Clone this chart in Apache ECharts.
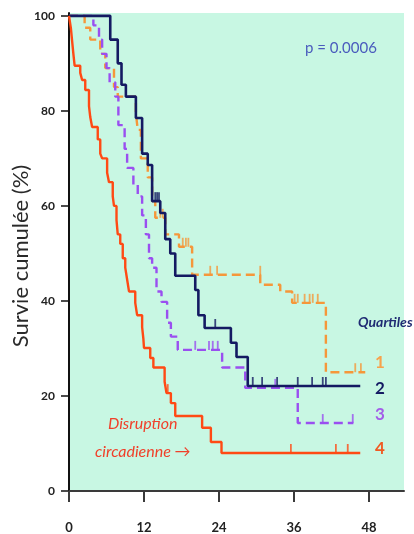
<!DOCTYPE html>
<html><head><meta charset="utf-8">
<script src="https://cdn.jsdelivr.net/npm/echarts@6/dist/echarts.min.js"></script>
<style>html,body{margin:0;padding:0;background:#fff}#c{width:414px;height:534px}</style>
</head><body><div id="c"></div>
<script>
// Axis ticks
const xTicks = [0, 12, 24, 36, 48];
const yTicks = [0, 20, 40, 60, 80, 100];

// Kaplan-Meier steps: [month, survival %] (survival after the event at that month)
const q1Steps = [[0,100],[2.5,97.5],[3.4,95],[5.0,92],[5.8,89],[7.2,85],[7.8,83],[10.7,79.5],[11.0,76],[11.5,70],[12.6,66],[13.3,61],[13.8,57.5],[15.4,54],[17.6,51.4],[19.7,45.5],[30.6,43.4],[33.8,42],[35.7,39.6],[41.1,25],[47.4,25]];
const q1Censor = [[14.6,57.5],[15.0,57.5],[18.2,51.4],[18.7,51.4],[19.1,51.4],[22.6,45.5],[23.7,45.5],[30.6,45.5],[36.1,39.6],[36.6,39.6],[37.7,39.6],[38.5,39.6],[39.0,39.6],[39.8,39.6],[45.8,25],[46.7,25]];

const q2Steps = [[0,100],[6.6,95],[7.8,90],[8.4,85.5],[9.1,83],[10.7,78.5],[11.7,71],[12.6,68.6],[13.3,61],[14.6,58.5],[15.4,53],[16.2,50],[17.0,45.3],[20.2,42.3],[20.7,37],[21.7,34.3],[25.9,31.2],[26.8,28.2],[28.6,22.1],[46.6,22.1]];
const q2Censor = [[13.8,61],[14.1,61],[14.4,61],[23.4,34.3],[29.4,22.1],[30.9,22.1],[33.3,22.1],[36.6,22.1],[38.9,22.1],[40.6,22.1],[41.1,22.1]];

const q3Steps = [[0,100],[3.9,98],[4.8,95],[5.3,92],[6.0,89],[6.5,86],[7.4,83],[7.9,77],[8.9,72],[9.3,68],[10.3,64.4],[11.0,62],[11.7,58],[12.3,54],[12.8,49],[13.3,47],[14.0,42],[14.8,39.8],[15.7,35.4],[16.3,32.5],[17.4,29.7],[24.5,26],[28.2,21.7],[36.6,14.3],[45.5,14.3]];
const q3Censor = [[20.2,29.7],[22.4,29.7],[23.0,29.7],[23.8,29.7],[33.0,21.7],[40.6,14.3],[45.4,14.3]];

const q4Steps = [[0,100],[0.3,97.4],[0.5,94.7],[0.7,92],[0.9,89.5],[1.8,88],[2.1,86.5],[2.6,84.4],[3.2,81],[3.4,78.7],[3.7,76.6],[4.6,74],[5.0,71],[5.3,70],[6.1,67],[6.4,65],[7.0,62],[7.2,60],[7.6,57],[7.8,54],[8.2,52],[8.6,49],[9.0,47],[9.3,44.5],[9.6,42],[10.6,39.6],[10.9,37],[11.7,34.5],[11.9,32],[12.0,30.1],[13.0,28],[13.5,26],[15.3,23],[15.6,20.6],[16.3,18.5],[17.0,15.8],[21.3,13.3],[22.7,10.3],[24.4,8],[46.6,8]];
const q4Censor = [[15.8,20.6],[35.5,8],[42.7,8],[44.6,8]];

const groupNames = ['1','2','3','4'];
const groupColors = ['#f5973a','#141a62','#9a4ff0','#ff4a14'];
const labelColors = ['#f7a24c','#141a62','#a35ee8','#f05a22'];

const chart = echarts.init(document.getElementById('c'), null, {renderer:'canvas'});
const FF = 'Lato, "Open Sans", sans-serif';

function kmLine(data, color, width, dash, z) {
  return {type:'line', step:'end', data:data, symbol:'none', showSymbol:false, z:z,
    lineStyle:{color:color, width:width, type:dash}, silent:true, animation:false};
}
function censor(data, color, z) {
  return {type:'scatter', data:data, symbol:'rect', symbolSize:[1.8,9], symbolOffset:[0,-4.5], z:z,
    itemStyle:{color:color}, silent:true, animation:false};
}

const option = {
  animation:false,
  grid:{left:69, right:10, top:13, bottom:43, show:true, backgroundColor:'#c8f7e3', borderWidth:0},
  xAxis:{type:'value', min:0, max:53.6,
    axisLine:{show:true, lineStyle:{color:'#3a3a3a', width:2}},
    axisTick:{show:true, length:11, inside:false, customValues:xTicks, lineStyle:{color:'#3a3a3a', width:2}},
    axisLabel:{customValues:xTicks, margin:30, color:'#222', fontFamily:FF, fontWeight:'bold', fontSize:13},
    splitLine:{show:false}},
  yAxis:{type:'value', min:0, max:100.6,
    axisLine:{show:true, lineStyle:{color:'#111', width:2}},
    axisTick:{show:true, length:8, customValues:yTicks, lineStyle:{color:'#111', width:1.5}},
    axisLabel:{customValues:yTicks, margin:14, color:'#222', fontFamily:FF, fontWeight:'bold', fontSize:12},
    splitLine:{show:false}},
  series:[
    kmLine(q1Steps, groupColors[0], 2.4, [9,5], 2),
    censor(q1Censor, groupColors[0], 2),
    kmLine(q3Steps, groupColors[2], 2.4, [9,5], 3),
    censor(q3Censor, groupColors[2], 3),
    kmLine(q2Steps, groupColors[1], 2.6, 'solid', 4),
    censor(q2Censor, groupColors[1], 4),
    kmLine(q4Steps, groupColors[3], 2.4, 'solid', 5),
    censor(q4Censor, groupColors[3], 5)
  ],
  graphic:[
    {type:'text', x:21, y:256, rotation:Math.PI/2, style:{text:'Survie cumulée (%)', fill:'#2a2a2a', font:'22px '+FF, align:'center', verticalAlign:'middle'}},
    {type:'text', x:305, y:48, style:{text:'p = 0.0006', fill:'#4a5bbd', font:'15px '+FF, align:'left', verticalAlign:'middle'}},
    {type:'text', x:358, y:322, style:{text:'Quartiles', fill:'#1f2b73', font:'italic bold 14px '+FF, align:'left', verticalAlign:'middle'}},
    {type:'text', x:375, y:363, style:{text:groupNames[0], fill:labelColors[0], font:'bold 17px '+FF, align:'left', verticalAlign:'middle'}},
    {type:'text', x:375, y:389, style:{text:groupNames[1], fill:labelColors[1], font:'bold 17px '+FF, align:'left', verticalAlign:'middle'}},
    {type:'text', x:375, y:415, style:{text:groupNames[2], fill:labelColors[2], font:'bold 17px '+FF, align:'left', verticalAlign:'middle'}},
    {type:'text', x:375, y:449, style:{text:groupNames[3], fill:labelColors[3], font:'bold 17px '+FF, align:'left', verticalAlign:'middle'}},
    {type:'text', x:108, y:424, style:{text:'Disruption', fill:'#f0402a', font:'italic 16px '+FF, align:'left', verticalAlign:'middle'}},
    {type:'text', x:95, y:452, style:{text:'circadienne \u2192', fill:'#f0402a', font:'italic 16px '+FF, align:'left', verticalAlign:'middle'}}
  ]
};
chart.setOption(option);
</script>
</body></html>
